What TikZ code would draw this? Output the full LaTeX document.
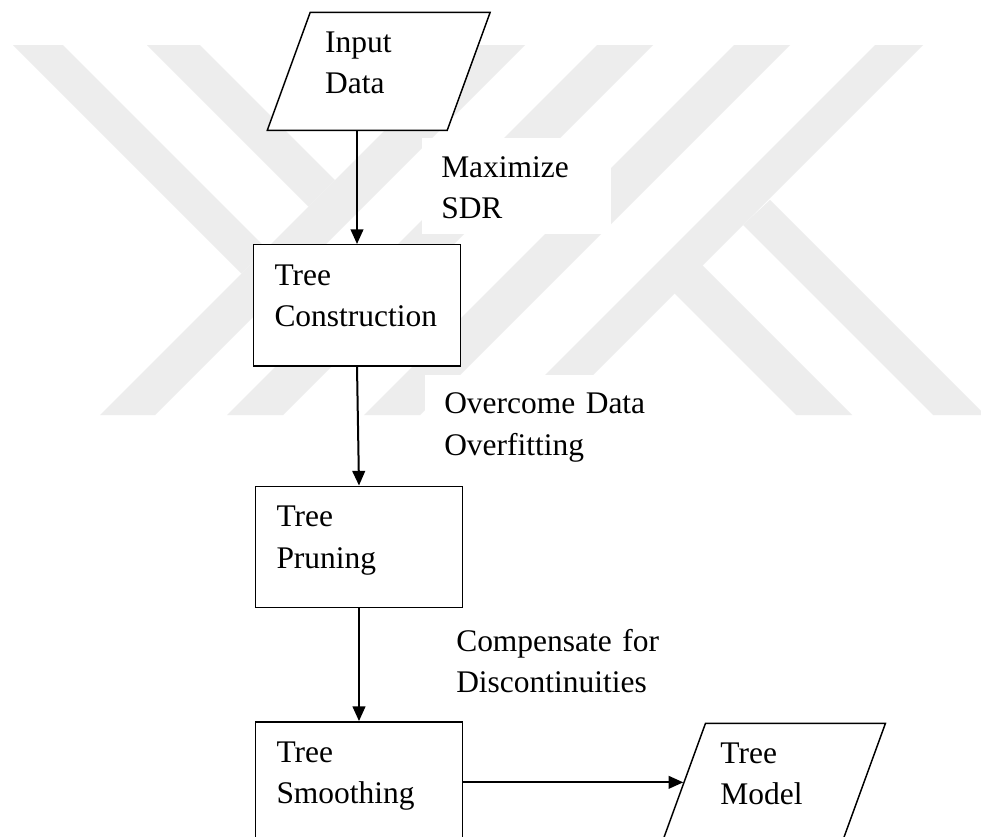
\documentclass[tikz,border=0pt]{standalone}
\usepackage{fontspec}
\setmainfont{Liberation Serif}
\usepackage{tikz}
\usetikzlibrary{shapes,arrows.meta,positioning}
\definecolor{wmark}{RGB}{237,237,237}
\tikzset{process/.style={rectangle, draw, fill=white, line width=1.1pt, text width=123.75pt, align=left,
 inner xsep=15.75pt, inner ysep=0pt, text height=30.4pt, text depth=60.4pt, font=\fontsize{23.6pt}{31.1pt}\selectfont}}
\tikzset{iobox/.style={trapezium, trapezium left angle=70, trapezium right angle=110, draw, fill=white, line width=1.1pt,
 text width=80.25pt, align=left, inner xsep=11.25pt, inner ysep=0pt, text height=30pt, text depth=58.5pt,
 font=\fontsize{23.6pt}{31.1pt}\selectfont}}
\tikzset{note/.style={rectangle, fill=white, text width=153.75pt, align=left, inner xsep=14.25pt, inner ysep=0pt,
 text height=29.25pt, text depth=42.75pt, font=\fontsize{23.6pt}{31.1pt}\selectfont}}
\tikzset{line/.style={draw, line width=1.5pt, -{Triangle[length=11pt,width=9.5pt]}}}

\begin{document}
\begin{tikzpicture}[x=0.75pt,y=-0.75pt]
    \useasboundingbox (0,0) rectangle (981,836);
    \clip (0,0) rectangle (981,836);
    \fill[white] (0,0) rectangle (981,836);

    \fill[wmark] (470,45) -- (525,45) -- (155,415) -- (100,415) -- cycle;
    \fill[wmark] (597,45) -- (653,45) -- (283,415) -- (227,415) -- cycle;
    \fill[wmark] (734,45) -- (790,45) -- (420,415) -- (364,415) -- cycle;
    \fill[wmark] (875,45) -- (923,45) -- (553,415) -- (505,415) -- cycle;
    \fill[wmark] (13,45) -- (63,45) -- (266.5,248.5) -- (241.5,273.5) -- cycle;
    \fill[wmark] (147,45) -- (200,45) -- (335,180) -- (308.5,206.5) -- cycle;
    \fill[wmark] (743,225) -- (770,200) -- (985,415) -- (933,415) -- cycle;
    \fill[wmark] (672,291) -- (700,263) -- (852,415) -- (796,415) -- cycle;

        \node[iobox, anchor=bottom side] (data) at (357,131) {Input\\Data};
        \node[process, below=84.75pt of data.bottom side] (cons) {Tree\\Construction};
        \node[process, below=89.25pt of cons, xshift=1.5pt] (prun) {Tree\\Pruning};
        \node[process, below=84.75pt of prun] (smoo) {Tree\\Smoothing};
        \node[iobox, right=165pt of smoo, anchor=left side] (model) {Tree\\Model};

        \node[note, text width=113.25pt, below right=5.25pt and 48.75pt of data.bottom side] (maxsdr) {Maximize\\SDR};
        \node[note, below right=6pt and 51pt of cons.south] (overfit) {Overcome Data\\Overfitting};
        \node[note, below right=3pt and 58.5pt of prun.south] (discont) {Compensate for\\Discontinuities};

        \path[line] (data.bottom side) -- (cons.north);
        \path[line] (cons.south) -- (prun.north);
        \path[line] (prun.south) -- (smoo.north);
        \path[line] (smoo.east) -- (model.left side);
      \end{tikzpicture}
\end{document}
